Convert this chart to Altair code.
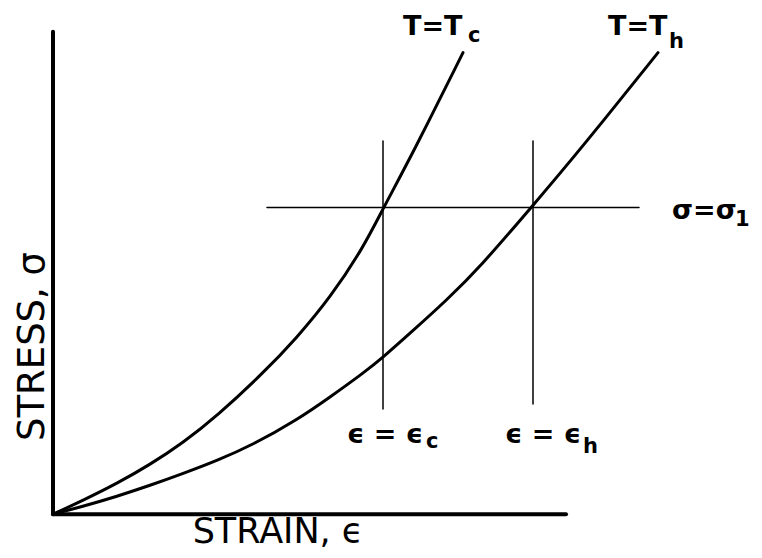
import altair as alt
import pandas as pd

# Curves (strain, stress)
tc_strain = [0, 3.0, 6.4, 9.7, 13.0, 16.4, 21.0, 24.4, 27.7, 31.0, 33.0, 36.0, 41.0]
tc_stress = [0, 1.4, 3.1, 5.0, 7.2, 9.9, 14.2, 17.8, 21.8, 26.8, 30.8, 36.4, 46.5]
th_strain = [0, 3.0, 6.4, 9.7, 13.0, 16.4, 20.0, 24.4, 27.7, 31.0, 33.0, 36.0, 39.4, 42.7, 47.9, 52.7, 60.5]
th_stress = [0, 0.8, 1.8, 2.9, 4.1, 5.4, 7.0, 9.5, 11.8, 14.2, 15.8, 18.5, 21.6, 24.9, 31.0, 36.7, 46.5]

# Straight lines: axes, sigma = sigma1, eps = eps_c, eps = eps_h
rule_names = ["y_axis", "x_axis", "sigma1", "eps_c", "eps_h"]
rule_x1 = [0, 0, 21.4, 33.0, 48.0]
rule_x2 = [0, 51.3, 58.6, 33.0, 48.0]
rule_y1 = [0, 0, 30.9, 10.6, 11.1]
rule_y2 = [48.6, 0, 30.9, 37.6, 37.6]
rule_w = [4, 4, 1.5, 1.5, 1.5]

# Equation labels (main text + subscript)
lab_text = ["T=T", "T=T", "σ=σ", "ϵ = ϵ", "ϵ = ϵ"]
lab_x = [35.0, 55.5, 61.9, 29.4, 45.2]
lab_y = [48.3, 48.3, 29.7, 7.2, 7.2]
sub_text = ["c", "h", "1", "c", "h"]
sub_x = [41.5, 61.6, 68.2, 37.3, 53.0]
sub_y = [47.6, 47.0, 29.0, 6.7, 6.2]

xscale = alt.Scale(domain=[-4.5, 70.1], nice=False, zero=False)
yscale = alt.Scale(domain=[-3.2, 51.0], nice=False, zero=False)

curves = pd.DataFrame({
    "strain": tc_strain + th_strain,
    "stress": tc_stress + th_stress,
    "curve": ["Tc"] * len(tc_strain) + ["Th"] * len(th_strain),
    "order": list(range(len(tc_strain))) + list(range(len(th_strain))),
})

rules = pd.DataFrame({"name": rule_names, "x1": rule_x1, "x2": rule_x2,
                      "y1": rule_y1, "y2": rule_y2, "w": rule_w})
labels = pd.DataFrame({"t": lab_text, "x": lab_x, "y": lab_y})
subs = pd.DataFrame({"t": sub_text, "x": sub_x, "y": sub_y})
titles = pd.DataFrame({"t": ["STRAIN, ϵ"], "x": [22.5], "y": [-2.9]})
ytitle = pd.DataFrame({"t": ["STRESS, σ"], "x": [-0.9], "y": [16.9]})

X = lambda f: alt.X(f, type="quantitative", scale=xscale, axis=None)
Y = lambda f: alt.Y(f, type="quantitative", scale=yscale, axis=None)

line_layer = alt.Chart(curves).mark_line(
    color="black", strokeWidth=3, interpolate="basis", strokeCap="round"
).encode(x=X("strain"), y=Y("stress"), detail="curve:N", order="order:Q")

rule_layer = alt.Chart(rules).mark_rule(color="black", strokeCap="round").encode(
    x=X("x1"), x2="x2:Q", y=Y("y1"), y2="y2:Q",
    strokeWidth=alt.StrokeWidth("w:Q", scale=None),
)

label_layer = alt.Chart(labels).mark_text(
    align="left", baseline="alphabetic", fontSize=27, fontWeight="bold",
    font="DejaVu Sans", color="black"
).encode(x=X("x"), y=Y("y"), text="t:N")

sub_layer = alt.Chart(subs).mark_text(
    align="left", baseline="alphabetic", fontSize=21, fontWeight="bold",
    font="DejaVu Sans", color="black"
).encode(x=X("x"), y=Y("y"), text="t:N")

xtitle_layer = alt.Chart(titles).mark_text(
    align="center", baseline="alphabetic", fontSize=35,
    font="DejaVu Sans", color="black"
).encode(x=X("x"), y=Y("y"), text="t:N")

ytitle_layer = alt.Chart(ytitle).mark_text(
    align="center", baseline="alphabetic", fontSize=37, angle=270,
    font="DejaVu Sans", color="black"
).encode(x=X("x"), y=Y("y"), text="t:N")

chart = alt.layer(
    rule_layer, line_layer, label_layer, sub_layer, xtitle_layer, ytitle_layer
).properties(
    width=746, height=542, padding=0,
    autosize=alt.AutoSizeParams(type="fit", contains="padding"),
    background="white",
).configure_view(stroke=None)

chart.save("out.html", embed_options={"renderer": "svg", "actions": False})
